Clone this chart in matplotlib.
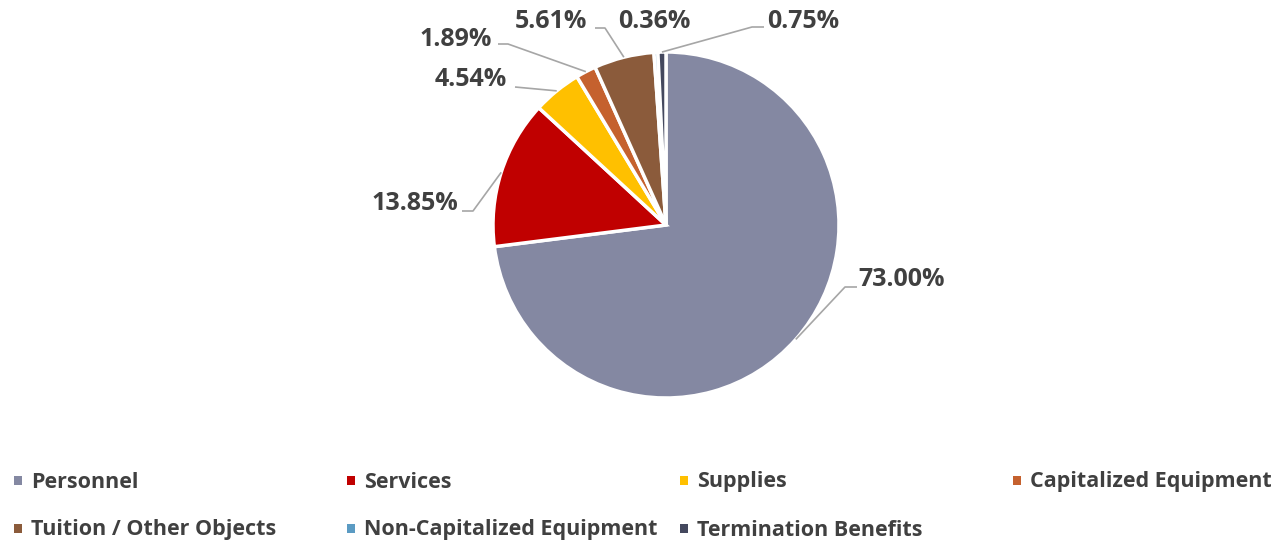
import matplotlib.pyplot as plt
import numpy as np
from matplotlib.patches import Rectangle

# Daten
categories = ["Personnel", "Services", "Supplies", "Capitalized Equipment",
              "Tuition / Other Objects", "Non-Capitalized Equipment", "Termination Benefits"]
shares = [73.00, 13.85, 4.54, 1.89, 5.61, 0.36, 0.75]
colors = ["#8488A2", "#C00000", "#FFC000", "#C5612E", "#8B5B3B", "#5B9BC3", "#44485E"]

# Label-Layout in Pixel (x, y von oben): Textanker, Ausrichtung, Knick, Linienende
label_pos = [(858, 280), (458, 203), (507, 80), (492, 39), (587, 22), (618, 22), (767, 21)]
label_ha = ["left", "right", "right", "right", "right", "left", "left"]
elbows = [(845, 287), (473, 211), None, (508, 44), (605, 28), None, (752, 27)]
line_ends = [(857, 287), (462, 211), (515, 87), (498, 44), (595, 28), None, (764, 27)]

W, H = 1282, 542
text_color = "#404040"
plt.rcParams["font.family"] = ["Open Sans", "DejaVu Sans"]

fig = plt.figure(figsize=(W / 100, H / 100), dpi=100)
ax = fig.add_axes([0, 0, 1, 1])

cx, cy, r = 666, H - 225, 173
wedges, _ = ax.pie(shares, colors=colors, startangle=90, counterclock=False,
                   center=(cx, cy), radius=r,
                   wedgeprops=dict(edgecolor="white", linewidth=2.5))
ax.set_xlim(0, W)
ax.set_ylim(0, H)
ax.axis("off")

# Beschriftungen mit Führungslinien
for w, val, (tx, ty), ha, elb, end in zip(wedges, shares, label_pos, label_ha, elbows, line_ends):
    ax.text(tx, H - ty, f"{val:.2f}%", ha=ha, va="center", fontsize=18,
            fontweight="bold", color=text_color)
    if end is None:
        continue
    ang = np.deg2rad((w.theta1 + w.theta2) / 2)
    xs = [cx + r * np.cos(ang)]
    ys = [cy + r * np.sin(ang)]
    if elb is not None:
        xs.append(elb[0])
        ys.append(H - elb[1])
    xs.append(end[0])
    ys.append(H - end[1])
    ax.plot(xs, ys, color="#A6A6A6", linewidth=1.2, solid_capstyle="butt")

# Legende (4 Spalten, gleichmäßig verteilt)
for i, (name, c) in enumerate(zip(categories, colors)):
    col, row = i % 4, i // 4
    x0 = 14 + col * 333
    y0 = H - (482 + row * 48)
    ax.add_patch(Rectangle((x0, y0 - 3), 8, 9, facecolor=c, edgecolor="none"))
    ax.text(x0 + 17, y0, name, ha="left", va="center", fontsize=15.5,
            fontweight="bold", color=text_color)

plt.savefig("out.png", dpi=100)
